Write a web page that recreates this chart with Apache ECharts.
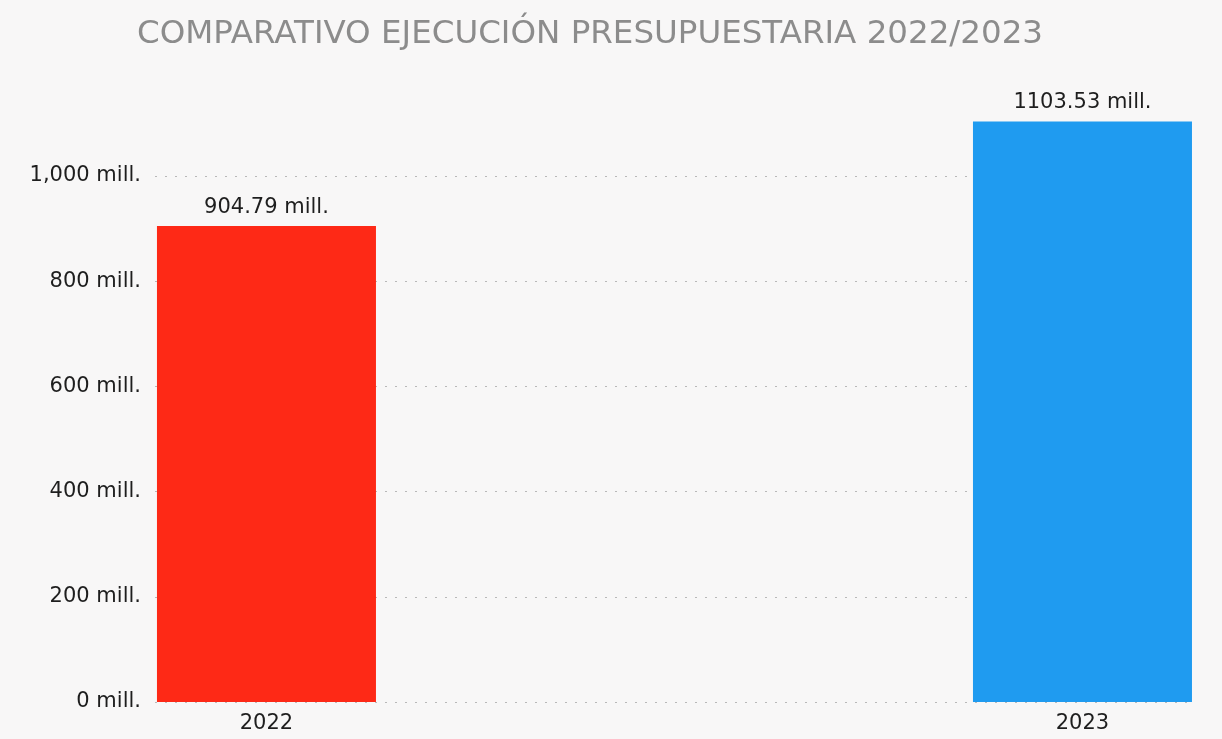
<!DOCTYPE html>
<html>
<head>
<meta charset="utf-8">
<script src="https://cdn.jsdelivr.net/npm/echarts@6/dist/echarts.min.js"></script>
<style>
html,body{margin:0;padding:0;background:#f8f7f7;}
#chart{width:1222px;height:739px;}
</style>
</head>
<body>
<div id="chart"></div>
<script>
const titleText = 'COMPARATIVO EJECUCIÓN PRESUPUESTARIA 2022/2023';
const years = [2022, 2023];
const values = [904.79, 1103.53];
const barColors = ['#fe2916', '#1f9bf0'];

const FONT = 'DejaVu Sans';
const chart = echarts.init(document.getElementById('chart'));
const fmtMill = v => v.toLocaleString('en-US') + ' mill.';
chart.setOption({
  backgroundColor: '#f8f7f7',
  animation: false,
  title: {
    text: titleText,
    left: 585, top: 13, textAlign: 'center',
    textStyle: {fontFamily: FONT, fontWeight: 'normal', fontSize: 32.5, color: '#8c8c8c'}
  },
  grid: {left: 155, right: 27, top: 97, bottom: 37},
  xAxis: {
    type: 'value', min: 2021.8634, max: 2023.1379,
    axisLine: {show: false}, axisTick: {show: false}, splitLine: {show: false},
    axisLabel: {customValues: years, formatter: v => String(Math.round(v)), fontFamily: FONT, fontSize: 21, color: '#1e1e1e', margin: 11}
  },
  yAxis: {
    type: 'value', min: 0, max: 1150, interval: 200,
    axisLine: {show: false}, axisTick: {show: false},
    axisLabel: {showMaxLabel: false, formatter: v => fmtMill(v), fontFamily: FONT, fontSize: 21, color: '#1e1e1e', margin: 14},
    splitLine: {showMaxLine: false, lineStyle: {type: [2, 8], color: '#b8b8b8', width: 1.2}}
  },
  series: [{
    type: 'bar', barWidth: 219,
    data: years.map((y, i) => ({value: [y, values[i]], itemStyle: {color: barColors[i]}})),
    label: {show: true, position: 'top', distance: 8, formatter: p => p.value[1].toFixed(2) + ' mill.', fontFamily: FONT, fontSize: 21, color: '#1e1e1e'}
  }]
});
</script>
</body>
</html>
